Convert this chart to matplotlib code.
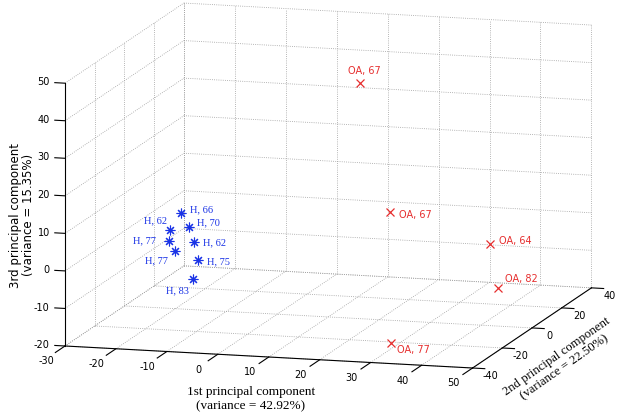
import matplotlib
matplotlib.use("Agg")
import numpy as np
import matplotlib.pyplot as plt
from matplotlib.transforms import offset_copy
from mpl_toolkits.mplot3d import proj3d

# ── scores (PC1, PC2, PC3) ───────────────────────────────────────────────────
h_labels = ["H, 66", "H, 62", "H, 70", "H, 77", "H, 62", "H, 77", "H, 75", "H, 83"]
h_pc1 = [-20.4, -21.1, -20.2, -19.8, -16.3, -17.1, -17.1, -13.6]
h_pc2 = [5, 0, 10, -5, 0, -10, 5, -10]
h_pc3 = [4.0, 0.9, -1.0, -0.6, -1.9, -1.8, -8.1, -9.0]

oa_labels = ["OA, 67", "OA, 67", "OA, 64", "OA, 82", "OA, 77"]
oa_pc1 = [13.4, 28.0, 36.0, 38.9, 31.1]
oa_pc2 = [10, -20, 20, 15, -30]
oa_pc3 = [39.8, 14.5, -4.0, -14.1, -17.5]

x_ticks = [-30, -20, -10, 0, 10, 20, 30, 40, 50]
y_ticks = [-40, -20, 0, 20, 40]
z_ticks = [-20, -10, 0, 10, 20, 30, 40, 50]

# label placement next to each marker: (dx, dy) in pixels, horizontal alignment
h_offsets = [(9, 4), (-3, 9), (8, 4), (-13, 0), (9, -1), (-7, -10), (9, -2), (-16, -12)]
h_ha = ["left", "right", "left", "right", "left", "right", "left", "center"]
oa_offsets = [(4, 12), (9, -3), (9, 3), (7, 9), (6, -7)]
oa_ha = ["center", "left", "left", "left", "left"]

W, H = 622, 416
BLUE = "#1a33e6"
RED = "#e62e2e"
GRID = dict(color="0.62", lw=0.6, ls=(0, (1, 1.6)))
SANS = ["DejaVu Sans"]
SERIF = ["Liberation Serif", "DejaVu Serif"]

fig = plt.figure(figsize=(W / 100, H / 100), dpi=100)
ax = fig.add_axes([100 / W, 20 / H, 380 / W, 380 / H], projection="3d",
                  proj_type="ortho", computed_zorder=False)
ax.set_box_aspect((424, 437, 268))
ax.view_init(elev=11, azim=-74.2)
x0, x1 = x_ticks[0], x_ticks[-1]
y0, y1 = y_ticks[0], y_ticks[-1]
z0, z1 = z_ticks[0], z_ticks[-1]
ax.set_xlim(x0, x1)
ax.set_ylim(y0, y1)
ax.set_zlim(z0, z1)
ax.set_axis_off()

# fit the box onto the same pixels as the original figure
fig.canvas.draw()


def proj(x, y, z):
    xs, ys, _ = proj3d.proj_transform(x, y, z, ax.M)
    return float(xs), float(ys)


def to_px(x, y, z):
    return np.array(ax.transData.transform(proj(x, y, z)))


pa, pb = to_px(x0, y0, z0), to_px(x1, y1, z1)
ta, tb = np.array([65.0, H - 346.0]), np.array([592.0, H - 26.0])
bb = ax.get_position()
orig = np.array([bb.x0 * W, bb.y0 * H])
size = bb.width * W
scale = np.linalg.norm(tb - ta) / np.linalg.norm(pb - pa)
frac = (pa - orig) / size
new = size * scale
o = ta - frac * new
ax.set_position([o[0] / W, o[1] / H, new / W, new / H])


def seg(p, q, **kw):
    ax.plot([p[0], q[0]], [p[1], q[1]], [p[2], q[2]], **kw)


def label(x, y, z, s, dx=0, dy=0, **kw):
    # project once, then place as ordinary 2D text with a pixel offset
    tr = offset_copy(ax.transData, fig=fig, x=dx, y=dy, units="dots")
    xs, ys = proj(x, y, z)
    ax.text2D(xs, ys, s, transform=tr, **kw)


# ── grid on back wall, left wall and floor ───────────────────────────────────
for xt in x_ticks:
    seg((xt, y1, z0), (xt, y1, z1), **GRID)
    seg((xt, y0, z0), (xt, y1, z0), **GRID)
for yt in y_ticks:
    seg((x0, yt, z0), (x0, yt, z1), **GRID)
    seg((x0, yt, z0), (x1, yt, z0), **GRID)
for zt in z_ticks:
    seg((x0, y1, zt), (x1, y1, zt), **GRID)
    seg((x0, y0, zt), (x0, y1, zt), **GRID)

# ── axis lines, ticks and tick labels ────────────────────────────────────────
AX = dict(color="black", lw=0.8)
seg((x0, y0, z0), (x1, y0, z0), **AX)
seg((x1, y0, z0), (x1, y1, z0), **AX)
seg((x0, y0, z0), (x0, y0, z1), **AX)
for xt in x_ticks:
    seg((xt, y0, z0), (xt, y0 - 6.5, z0), **AX)
    label(xt, y0 - 12.8, z0 - 0.7, str(xt), ha="center", va="center",
          fontsize=7, family=SANS)
for yt in y_ticks:
    seg((x1, yt, z0), (x1 + 2.4, yt, z0), **AX)
    label(x1 + 3.5, yt, z0 - 1.9, str(yt), ha="center", va="center",
          fontsize=7, family=SANS)
for zt in z_ticks:
    seg((x0, y0, zt), (x0 - 2, y0, zt), **AX)
    label(x0 - 3, y0, zt, str(zt), ha="right", va="center",
          fontsize=7, family=SANS)

# ── data ─────────────────────────────────────────────────────────────────────
ax.plot(h_pc1, h_pc2, h_pc3, ls="none", marker=(8, 2, 0), ms=7,
        mec=BLUE, mew=0.8)
ax.plot(oa_pc1, oa_pc2, oa_pc3, ls="none", marker="x", ms=6,
        mec=RED, mew=0.9)

for x, y, z, lab, (dx, dy), ha in zip(h_pc1, h_pc2, h_pc3, h_labels, h_offsets, h_ha):
    label(x, y, z, lab, dx, dy, ha=ha, va="center", color=BLUE,
          fontsize=7.5, family=SERIF)
for x, y, z, lab, (dx, dy), ha in zip(oa_pc1, oa_pc2, oa_pc3, oa_labels, oa_offsets, oa_ha):
    label(x, y, z, lab, dx, dy, ha=ha, va="center", color=RED,
          fontsize=7, family=SANS)

# ── axis titles ──────────────────────────────────────────────────────────────
fig.text(251 / W, 1 - 399 / H, "1st principal component\n(variance = 42.92%)",
         ha="center", va="center", multialignment="center",
         fontsize=9.5, family=SERIF)
fig.text(561 / W, 1 - 362 / H, "2nd principal component\n(variance = 22.50%)",
         ha="center", va="center", multialignment="center", rotation=35,
         rotation_mode="anchor", fontsize=9.2, family=SERIF)
fig.text(22 / W, 1 - 215 / H, "3rd principal component\n(variance = 15.35%)",
         ha="center", va="center", multialignment="center", rotation=90,
         linespacing=1.0, fontsize=8.5, family=SANS)

fig.savefig("out.png", dpi=100)
